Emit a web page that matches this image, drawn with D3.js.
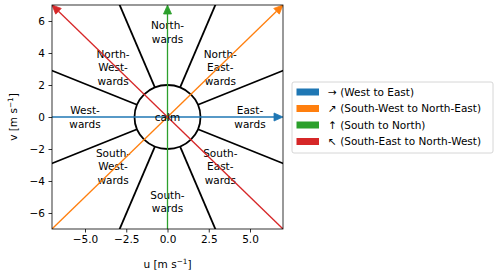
<!DOCTYPE html>
<html>
<head>
<meta charset="utf-8">
<script src="https://cdn.jsdelivr.net/npm/d3@7"></script>
<style>
  body { margin: 0; background: #fff; }
  text { font-family: "DejaVu Sans", sans-serif; font-size: 10.5px; fill: #000; }
</style>
</head>
<body>
<div id="chart"></div>
<script>
// data
var xTicks = [-5, -2.5, 0, 2.5, 5];
var yTicks = [-6, -4, -2, 0, 2, 4, 6];
var calmRadius = 2;
var boundaryAngles = [22.5, 67.5, 112.5, 157.5, 202.5, 247.5, 292.5, 337.5];
var sectorNames = [["East-", "wards"], ["North-", "East-", "wards"], ["North-", "wards"], ["North-", "West-", "wards"],
                   ["West-", "wards"], ["South-", "West-", "wards"], ["South-", "wards"], ["South-", "East-", "wards"]];
var sectorLabelPos = [[5.0, 0], [3.2, 3.1], [0, 5.3], [-3.3, 3.1], [-5.0, 0], [-3.3, -3.1], [0, -5.3], [3.2, -3.1]];
var arrowNames = ["→ (West to East)", "↗ (South-West to North-East)", "↑ (South to North)", "↖ (South-East to North-West)"];
var arrowFrom = [[-7, 0], [-7, -7], [0, -7], [7, -7]];
var arrowTo = [[7, 0], [7, 7], [0, 7], [-7, 7]];
var colors = ["#1f77b4", "#ff7f0e", "#2ca02c", "#d62728"];

var W = 500, H = 274;
var margin = {left: 52, top: 5, right: 217, bottom: 45};
var width = W - margin.left - margin.right,
    height = H - margin.top - margin.bottom;

var svg = d3.select("#chart").append("svg")
    .attr("width", W).attr("height", H);

var x = d3.scaleLinear().domain([-7, 7]).range([0, width]);
var y = d3.scaleLinear().domain([-7, 7]).range([height, 0]);

var g = svg.append("g").attr("transform", "translate(" + margin.left + "," + margin.top + ")");

g.append("clipPath").attr("id", "clip")
  .append("rect").attr("width", width).attr("height", height);

var plot = g.append("g").attr("clip-path", "url(#clip)");

// sector boundaries
plot.selectAll(".sector")
  .data(boundaryAngles)
  .enter().append("line")
  .attr("x1", function(a){ return x(calmRadius * Math.cos(a * Math.PI / 180)); })
  .attr("y1", function(a){ return y(calmRadius * Math.sin(a * Math.PI / 180)); })
  .attr("x2", function(a){ return x(20 * Math.cos(a * Math.PI / 180)); })
  .attr("y2", function(a){ return y(20 * Math.sin(a * Math.PI / 180)); })
  .attr("stroke", "#000").attr("stroke-width", 1.8);

// calm circle
plot.append("ellipse")
  .attr("cx", x(0)).attr("cy", y(0))
  .attr("rx", x(calmRadius) - x(0)).attr("ry", y(0) - y(calmRadius))
  .attr("fill", "none").attr("stroke", "#000").attr("stroke-width", 1.8);

// sector labels
sectorNames.forEach(function(lines, i){
  var t = plot.append("text")
    .attr("text-anchor", "middle")
    .attr("x", x(sectorLabelPos[i][0]))
    .attr("y", y(sectorLabelPos[i][1]) - (lines.length - 1) * 6.7 + 3.8);
  lines.forEach(function(s, j){
    t.append("tspan").attr("x", x(sectorLabelPos[i][0])).attr("dy", j ? 13.4 : 0).text(s);
  });
});

// arrows
arrowFrom.forEach(function(p, i){
  var q = arrowTo[i];
  var x1 = x(p[0]), y1 = y(p[1]), x2 = x(q[0]), y2 = y(q[1]);
  var ang = Math.atan2(y2 - y1, x2 - x1);
  var hl = 9, hw = 4;
  var bx = x2 - hl * Math.cos(ang), by = y2 - hl * Math.sin(ang);
  plot.append("line")
    .attr("x1", x1).attr("y1", y1).attr("x2", bx).attr("y2", by)
    .attr("stroke", colors[i]).attr("stroke-width", 1.3);
  var px = -Math.sin(ang) * hw, py = Math.cos(ang) * hw;
  plot.append("path")
    .attr("d", "M" + x2 + "," + y2 + "L" + (bx + px) + "," + (by + py) + "L" + (bx - px) + "," + (by - py) + "Z")
    .attr("fill", colors[i]).attr("stroke", colors[i]).attr("stroke-width", 0.8);
});

plot.append("text").attr("x", x(0)).attr("y", y(0) + 3.8)
  .attr("text-anchor", "middle").text("calm");

// axes
var fmt = d3.format(".1f");
var xAxis = g.append("g").attr("transform", "translate(0," + height + ")")
  .call(d3.axisBottom(x).tickValues(xTicks).tickSize(3.5).tickPadding(3.5)
    .tickFormat(function(d){ return fmt(d).replace("-", "\u2212"); }));
var yAxis = g.append("g")
  .call(d3.axisLeft(y).tickValues(yTicks).tickSize(3.5).tickPadding(3.5)
    .tickFormat(function(d){ return String(d).replace("-", "\u2212"); }));
[xAxis, yAxis].forEach(function(a){
  a.selectAll("text").style("font-size", "10.5px").style("font-family", "DejaVu Sans");
  a.selectAll("line").attr("stroke", "#000").attr("stroke-width", 0.8);
  a.select(".domain").remove();
});

g.append("rect").attr("width", width).attr("height", height)
  .attr("fill", "none").attr("stroke", "#000").attr("stroke-width", 0.8);

// axis labels
var xl = svg.append("text").attr("x", margin.left + width / 2).attr("y", 268).attr("text-anchor", "middle");
xl.append("tspan").text("u [m s");
xl.append("tspan").attr("dy", -4).style("font-size", "7.3px").text("\u22121");
xl.append("tspan").attr("dy", 4).text("]");

var yl = svg.append("text").attr("transform", "translate(17," + (margin.top + height / 2) + ") rotate(-90)")
  .attr("text-anchor", "middle");
yl.append("tspan").text("v [m s");
yl.append("tspan").attr("dy", -4).style("font-size", "7.3px").text("\u22121");
yl.append("tspan").attr("dy", 4).text("]");

// legend
var lg = svg.append("g").attr("transform", "translate(292,82)");
lg.append("rect").attr("width", 201).attr("height", 71).attr("rx", 2)
  .attr("fill", "#fff").attr("stroke", "#ccc").attr("stroke-width", 0.8);
arrowNames.forEach(function(name, i){
  var row = lg.append("g").attr("transform", "translate(0," + (10 + i * 16.5) + ")");
  row.append("rect").attr("x", 4.5).attr("y", -3.5).attr("width", 22.5).attr("height", 7).attr("fill", colors[i]);
  row.append("text").attr("x", 36).attr("y", 3.8).text(name);
});
</script>
</body>
</html>
